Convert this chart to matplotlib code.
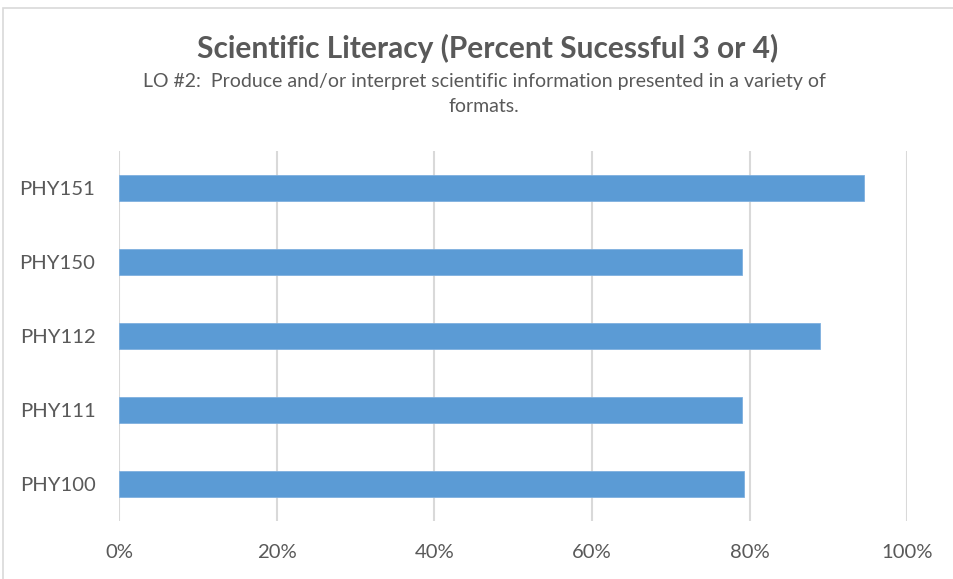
import matplotlib.pyplot as plt
from matplotlib.patches import Rectangle
from matplotlib.ticker import FuncFormatter

# Course data
courses = ['PHY100', 'PHY111', 'PHY112', 'PHY150', 'PHY151']
pct_success = [79.3, 79.0, 88.9, 79.0, 94.5]
x_ticks = [0, 20, 40, 60, 80, 100]

title = 'Scientific Literacy (Percent Sucessful 3 or 4)'
subtitle = 'LO #2:  Produce and/or interpret scientific information presented in a variety of\nformats.'

text_color = '#595959'
bar_color = '#5B9BD5'
grid_color = '#D9D9D9'

plt.rcParams['font.family'] = ['Lato', 'DejaVu Sans']

W, H = 954, 579
fig = plt.figure(figsize=(W / 100, H / 100), dpi=100)
ax = fig.add_axes([119 / W, 1 - 521 / H, (907.5 - 119) / W, 370 / H])

ax.barh(courses, pct_success, height=0.35, color=bar_color, edgecolor='#7FB0DF', linewidth=0.6, zorder=3)

ax.set_xlim(0, 100)
ax.set_ylim(-0.5, len(courses) - 0.5)
ax.set_xticks(x_ticks)
ax.xaxis.set_major_formatter(FuncFormatter(lambda v, p: f'{v:.0f}%'))
ax.grid(axis='x', color=grid_color, linewidth=1.5, zorder=0)
ax.tick_params(axis='both', length=0, labelsize=14.6, labelcolor=text_color)
ax.tick_params(axis='x', pad=16.5)
ax.tick_params(axis='y', pad=17)
for s in ax.spines.values():
    s.set_visible(False)

# Titles
fig.text(488 / W, 1 - 48 / H, title, ha='center', va='center',
         fontsize=21.5, fontweight='bold', color=text_color)
fig.text(484 / W, 1 - 94 / H, subtitle, ha='center', va='center',
         fontsize=14, color=text_color, linespacing=1.6)

# Chart border
fig.patches.append(Rectangle((3.5 / W, -0.1), 1.2, 1 - 7.5 / H + 0.1,
                             transform=fig.transFigure, fill=False,
                             edgecolor=grid_color, linewidth=1.2))

fig.savefig('out.png', dpi=100)
